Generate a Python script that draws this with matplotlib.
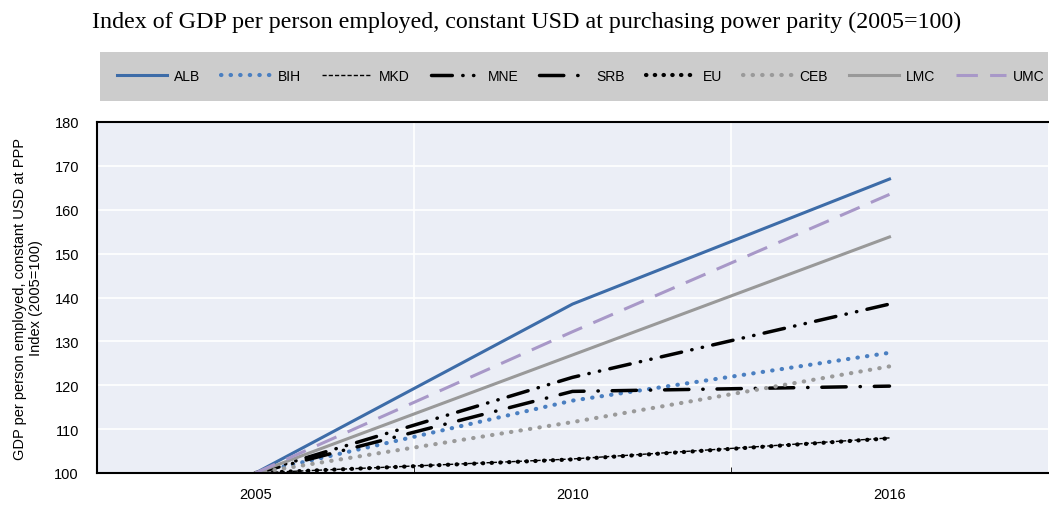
import matplotlib
matplotlib.use("Agg")
import matplotlib.pyplot as plt
from matplotlib.patches import Rectangle

years = ["2005", "2010", "2016"]
ALB = [100, 138.5, 167.0]
BIH = [100, 116.5, 127.4]
MKD = [100, 103.2, 108.0]
MNE = [100, 121.8, 138.5]
SRB = [100, 118.6, 119.8]
EU = [100, 103.1, 107.9]
CEB = [100, 111.6, 124.3]
LMC = [100, 126.9, 153.8]
UMC = [100, 132.2, 163.5]

sans = "Liberation Sans"
serif = "Liberation Serif"
plt.rcParams['font.family'] = [sans, 'DejaVu Sans']

fig = plt.figure(figsize=(10.49, 5.06), dpi=100)
ax = fig.add_axes([97/1049, 1-474/506, (1048-97)/1049, (474-123)/506])
ax.set_facecolor("#ebeef6")

x = list(range(len(years)))
styles = [
    ("ALB", ALB, dict(color="#3d6ca8", lw=2.2, ls="-")),
    ("BIH", BIH, dict(color="#4a7fc1", lw=3, ls=(0, (0.1, 2.2)), dash_capstyle="round")),
    ("MKD", MKD, dict(color="black", lw=1.0, ls=(0, (3, 1.5)))),
    ("MNE", MNE, dict(color="black", lw=2.5, ls=(0, (6, 3, 0.1, 3, 0.1, 3)), dash_capstyle="round")),
    ("SRB", SRB, dict(color="black", lw=2.5, ls=(0, (7, 4, 0.1, 4)), dash_capstyle="round")),
    ("EU", EU, dict(color="black", lw=3, ls=(0, (0.1, 2.0)), dash_capstyle="round")),
    ("CEB", CEB, dict(color="#9a9a9a", lw=3, ls=(0, (0.1, 2.2)), dash_capstyle="round")),
    ("LMC", LMC, dict(color="#999999", lw=2.2, ls="-")),
    ("UMC", UMC, dict(color="#a898c8", lw=2.2, ls=(0, (7, 4)))),
]
for name, vals, kw in styles:
    ax.plot(x, vals, label=name, **kw)

ax.set_xlim(-0.5, 2.5)
ax.set_ylim(100, 180)
ax.set_yticks(range(100, 181, 10))
ax.set_xticks(x)
ax.set_xticklabels(years)
ax.set_xticks([0.5, 1.5], minor=True)
ax.tick_params(axis="x", which="major", length=0, labelsize=10.5, pad=10)
ax.tick_params(axis="x", which="minor", length=4, direction="in", color="black")
ax.tick_params(axis="y", length=0, labelsize=10.5, pad=13)
ax.grid(True, axis="y", color="white", lw=1.2)
ax.grid(True, axis="x", which="minor", color="white", lw=1.2)
ax.set_axisbelow(True)
for s in ["left", "bottom", "top"]:
    ax.spines[s].set_color("black")
    ax.spines[s].set_linewidth(1.5)
ax.spines["right"].set_visible(False)
ax.set_ylabel("GDP per person employed, constant USD at PPP\nIndex (2005=100)", fontsize=10.5, labelpad=8)

fig.text(92/1049, 1-22/506, "Index of GDP per person employed, constant USD at purchasing power parity (2005=100)",
         family=serif, fontsize=17.3, va="center", ha="left")

fig.patches.append(Rectangle((100/1049, 1-102/506), (1048-100)/1049, 49/506,
                             transform=fig.transFigure, facecolor="#cccccc", edgecolor="none", zorder=0))
handles, labels = ax.get_legend_handles_labels()
leg = fig.legend(handles, labels, loc="center", bbox_to_anchor=(581/1049, 1-77/506), ncol=9,
                 frameon=False, fontsize=10, handlelength=3.6, columnspacing=1.5, handletextpad=0.5)

fig.savefig("out.png", dpi=100)
